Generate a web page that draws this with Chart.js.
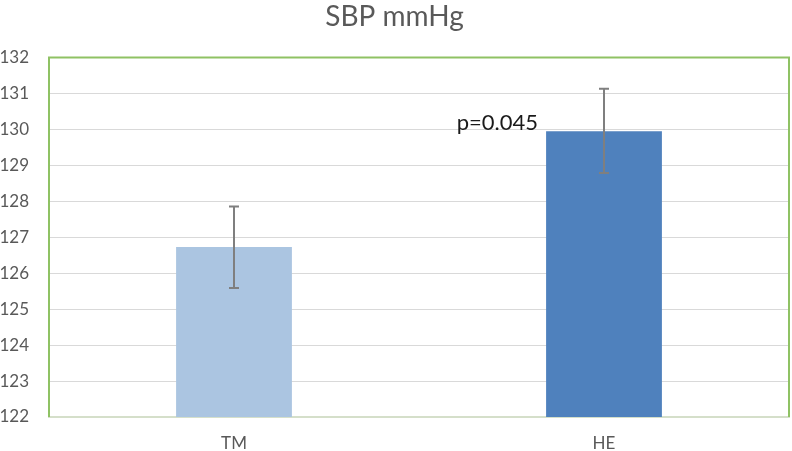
<!DOCTYPE html>
<html>
<head>
<meta charset="utf-8">
<script src="https://cdn.jsdelivr.net/npm/chart.js@4"></script>
<style>
html,body{margin:0;padding:0;background:#fff;}
#wrap{width:792px;height:451px;position:relative;}
</style>
</head>
<body>
<div id="wrap"><canvas id="c" width="792" height="451"></canvas></div>
<script>
const categories = ["TM", "HE"];
const means = [126.73, 129.95];
const errUp = [1.13, 1.18];
const errDown = [1.14, 1.16];
const barColors = ["#abc5e1", "#4f81bd"];
const annotationText = "p=0.045";
const yMin = 122, yMax = 132, yStep = 1;

const frame = {
  id: 'frame',
  beforeDatasetsDraw(chart) {
    const {ctx, chartArea: a} = chart;
    ctx.save();
    ctx.strokeStyle = '#8fc264';
    ctx.lineWidth = 2;
    ctx.beginPath();
    ctx.moveTo(a.left, a.bottom);
    ctx.lineTo(a.left, a.top);
    ctx.lineTo(a.right, a.top);
    ctx.lineTo(a.right, a.bottom);
    ctx.stroke();
    ctx.restore();
  }
};

const errorBars = {
  id: 'errorBars',
  afterDatasetsDraw(chart) {
    const {ctx} = chart;
    const y = chart.scales.y;
    const meta = chart.getDatasetMeta(0);
    ctx.save();
    ctx.strokeStyle = '#7f7f7f';
    ctx.lineWidth = 2;
    meta.data.forEach((bar, i) => {
      const top = y.getPixelForValue(means[i] + errUp[i]);
      const bot = y.getPixelForValue(means[i] - errDown[i]);
      const x = bar.x;
      ctx.beginPath();
      ctx.moveTo(x, top); ctx.lineTo(x, bot);
      ctx.moveTo(x - 5, top); ctx.lineTo(x + 5, top);
      ctx.moveTo(x - 5, bot); ctx.lineTo(x + 5, bot);
      ctx.stroke();
    });
    const he = meta.data[1];
    ctx.fillStyle = '#1a1a1a';
    ctx.font = '22px Lato';
    ctx.textAlign = 'right';
    ctx.textBaseline = 'alphabetic';
    ctx.fillText(annotationText, he.x - he.width / 2 - 8, y.getPixelForValue(130) + 1);
    ctx.restore();
  }
};

new Chart(document.getElementById('c'), {
  type: 'bar',
  data: {
    labels: categories,
    datasets: [{
      data: means,
      backgroundColor: barColors,
      borderWidth: 0,
      categoryPercentage: 1,
      barPercentage: 0.313
    }]
  },
  options: {
    responsive: false,
    animation: false,
    layout: {padding: {left: 0, right: 3, top: 0, bottom: 0}},
    plugins: {
      legend: {display: false},
      tooltip: {enabled: false},
      title: {
        display: true,
        text: 'SBP mmHg',
        color: '#595959',
        font: {family: 'Lato', size: 28, weight: 'normal'},
        padding: {top: 0, bottom: 24}
      }
    },
    scales: {
      x: {
        grid: {display: false, drawTicks: false},
        border: {display: true, color: '#d5dfca', width: 2},
        ticks: {color: '#595959', font: {family: 'Lato', size: 17}, padding: 16},
        afterFit(s) { s.height = 34; }
      },
      y: {
        min: yMin, max: yMax,
        grid: {color: '#d9d9d9', lineWidth: 1, drawTicks: false},
        border: {display: false},
        ticks: {stepSize: yStep, color: '#595959', font: {family: 'Lato', size: 17}, padding: 20},
        afterFit(s) { s.width = 49; }
      }
    }
  },
  plugins: [frame, errorBars]
});
</script>
</body>
</html>
